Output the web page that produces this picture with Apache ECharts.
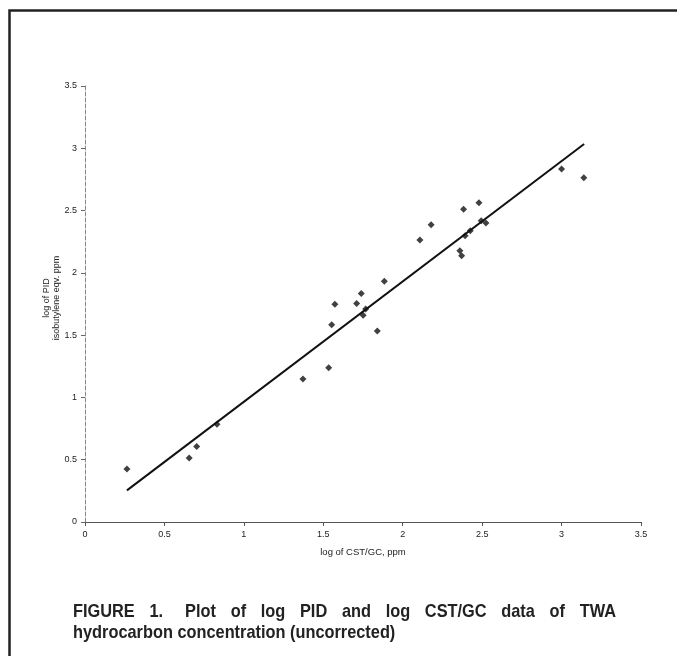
<!DOCTYPE html>
<html>
<head>
<meta charset="utf-8">
<script src="https://cdn.jsdelivr.net/npm/echarts@6/dist/echarts.min.js"></script>
<style>
html,body{margin:0;padding:0;background:#fff;}
#c{width:677px;height:656px;}
</style>
</head>
<body>
<div id="c"></div>
<script>
// ---- data ----
const cstgc = [0.264,0.656,0.703,0.831,1.372,1.534,1.553,1.573,1.710,1.739,1.751,1.767,1.840,1.884,2.108,2.179,2.360,2.371,2.383,2.393,2.425,2.480,2.494,2.524,3.000,3.140];
const pid   = [0.425,0.514,0.607,0.784,1.148,1.238,1.583,1.747,1.755,1.835,1.659,1.709,1.533,1.932,2.263,2.386,2.177,2.137,2.510,2.298,2.338,2.563,2.418,2.400,2.833,2.763];
const fitX = [0.264, 3.142];
const fitY = [0.254, 3.034];
const xTicks = ['0','0.5','1','1.5','2','2.5','3','3.5'];
const yTicks = ['0','0.5','1','1.5','2','2.5','3','3.5'];
const xTitle = 'log of CST/GC, ppm';
const yTitle = 'log of PID\nisobutylene eqv. ppm';
const captionLine1 = ['FIGURE','1.','Plot','of','log','PID','and','log','CST/GC','data','of','TWA'];
const captionLine2 = 'hydrocarbon concentration (uncorrected)';

const FONT = '"Liberation Sans", Arial, sans-serif';
const chart = echarts.init(document.getElementById('c'), null, {renderer:'canvas'});

// justified, slightly condensed caption
const capSize = 19, capScale = 0.86;
const cv = document.createElement('canvas').getContext('2d');
cv.font = 'bold ' + capSize + 'px "Liberation Sans"';
const capLeft = 73, capRight = 616, capTop1 = 602, capTop2 = 623;
const widths = captionLine1.map(w => cv.measureText(w).width * capScale);
const totalW = widths.reduce((a,b)=>a+b,0);
const gaps = captionLine1.length - 1 + 0.5; // wider gap after "1."
const gapW = (capRight - capLeft - totalW) / gaps;
const captionEls = [];
let cx = capLeft;
captionLine1.forEach((w,i) => {
  captionEls.push({type:'text', x: cx, y: capTop1, scaleX: capScale,
    style:{text:w, font:'bold '+capSize+'px '+FONT, fill:'#222', verticalAlign:'top'}});
  cx += widths[i] + gapW * (i === 1 ? 1.5 : 1);
});
captionEls.push({type:'text', x: capLeft, y: capTop2, scaleX: capScale,
  style:{text:captionLine2, font:'bold '+capSize+'px '+FONT, fill:'#222', verticalAlign:'top'}});

const option = {
  backgroundColor:'#fff',
  animation:false,
  grid:{left:85, right:36, top:86, bottom:134, containLabel:false},
  xAxis:{
    type:'value', min:0, max:3.5, interval:0.5,
    name:xTitle, nameLocation:'middle', nameGap:25, nameMoveOverlap:false,
    nameTextStyle:{fontSize:9.5, color:'#222', fontFamily:FONT},
    axisLine:{show:true, lineStyle:{color:'#555', width:1}},
    axisTick:{show:true, length:4, lineStyle:{color:'#555'}},
    axisLabel:{fontSize:9, color:'#222', fontFamily:FONT, margin:8,
      formatter:(v)=> xTicks[Math.round(v/0.5)] ?? String(v)},
    splitLine:{show:false}
  },
  yAxis:{
    type:'value', min:0, max:3.5, interval:0.5,
    name:yTitle, nameLocation:'middle', nameGap:23, nameRotate:90, nameMoveOverlap:false,
    nameTextStyle:{fontSize:9, lineHeight:10.5, color:'#222', fontFamily:FONT, padding:[0,0,0,12]},
    axisLine:{show:true, lineStyle:{color:'#888', width:1, type:'dashed'}},
    axisTick:{show:true, length:4, lineStyle:{color:'#666'}},
    axisLabel:{fontSize:9, color:'#222', fontFamily:FONT, margin:8,
      formatter:(v)=> yTicks[Math.round(v/0.5)] ?? String(v)},
    splitLine:{show:false}
  },
  series:[
    {type:'line', data: fitX.map((x,i)=>[x, fitY[i]]), symbol:'none',
      lineStyle:{color:'#111', width:2}, z:2},
    {type:'scatter', data: cstgc.map((x,i)=>[x, pid[i]]), symbol:'diamond',
      symbolSize:7, itemStyle:{color:'#111'}, z:3}
  ],
  graphic:[
    {type:'polyline', shape:{points:[[9.5,656],[9.5,10.5],[677,10.5]]},
      style:{stroke:'#222', lineWidth:2.5, fill:null}},
    ...captionEls
  ]
};
chart.setOption(option);
</script>
</body>
</html>
